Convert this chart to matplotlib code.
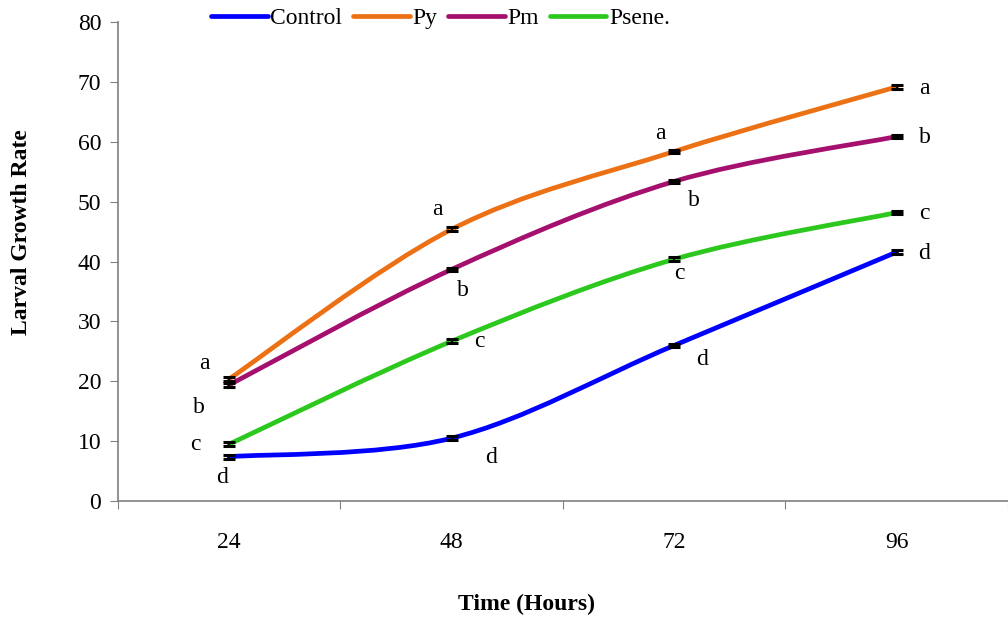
import matplotlib.pyplot as plt
import numpy as np
from matplotlib.path import Path
from matplotlib.patches import PathPatch

plt.rcParams['font.family'] = ['Liberation Serif', 'DejaVu Serif']

# данные
hours = ['24', '48', '72', '96']
control = [7.4, 10.5, 26.0, 41.6]
py = [20.4, 45.4, 58.4, 69.2]
pm = [19.4, 38.7, 53.4, 60.9]
psene = [9.5, 26.7, 40.4, 48.2]
err = [0.3, 0.3, 0.3, 0.3]

control_let = ['d', 'd', 'd', 'd']
py_let = ['a', 'a', 'a', 'a']
pm_let = ['b', 'b', 'b', 'b']
psene_let = ['c', 'c', 'c', 'c']

series = [
    ('Control', control, control_let, '#0000FF'),
    ('Py', py, py_let, '#EC7014'),
    ('Pm', pm, pm_let, '#A50F6E'),
    ('Psene.', psene, psene_let, '#2DC81E'),
]

# смещения букв (в пунктах) от точки
offsets = {
    'Control': [(-5, -15), (28, -14), (20, -10), (20, -1)],
    'Py': [(-18, 11), (-10, 14), (-10, 13), (20, -1)],
    'Pm': [(-22, -16), (8, -15), (14, -14), (20, -1)],
    'Psene.': [(-24, 0), (20, 0), (4, -10), (20, -1)],
}

FS = 17


def smooth_path(xs, ys):
    # сглаживание как в Excel (Безье по Катмулл-Рому)
    pts = np.column_stack([xs, ys]).astype(float)
    n = len(pts)
    verts = [pts[0]]
    codes = [Path.MOVETO]
    for i in range(n - 1):
        p0 = pts[i - 1] if i > 0 else pts[i]
        p1 = pts[i]
        p2 = pts[i + 1]
        p3 = pts[i + 2] if i + 2 < n else pts[i + 1]
        c1 = p1 + (p2 - p0) / 6.0
        c2 = p2 - (p3 - p1) / 6.0
        verts += [c1, c2, p2]
        codes += [Path.CURVE4] * 3
    return Path(verts, codes)


fig = plt.figure(figsize=(10.08, 6.17), dpi=100, facecolor='white')
ax = fig.add_axes([0.117, 0.188, 0.883, 0.776])

x = np.arange(1, len(hours) + 1)
handles = []
for name, vals, lets, col in series:
    patch = PathPatch(smooth_path(x, vals), facecolor='none', edgecolor=col,
                      lw=3.4, capstyle='round', zorder=3)
    ax.add_patch(patch)
    ax.errorbar(x, vals, yerr=err, fmt='none', ecolor='black', capsize=4.5,
                elinewidth=1.5, capthick=2.2, zorder=4)
    h, = ax.plot([], [], color=col, lw=3.4, solid_capstyle='round', label=name)
    handles.append(h)
    for xi, yi, lt, off in zip(x, vals, lets, offsets[name]):
        ax.annotate(lt, (xi, yi), xytext=off, textcoords='offset points',
                    ha='center', va='center', fontsize=FS)

ax.set_xlim(0.5, 4.5)
ax.set_ylim(0, 80)
ax.set_yticks(np.arange(0, 81, 10))
ax.set_xticks(np.arange(0.5, 4.6, 1))
ax.set_xticklabels([])
ax.set_xticks(x, minor=True)
ax.set_xticklabels(hours, minor=True)
ax.tick_params(axis='x', which='minor', length=0, pad=22, labelsize=FS)
ax.tick_params(axis='x', which='major', length=6, direction='out', color='#808080')
ax.tick_params(axis='y', length=6, direction='out', color='#808080', labelsize=FS, pad=6)

for s in ['top', 'right']:
    ax.spines[s].set_visible(False)
for s in ['left', 'bottom']:
    ax.spines[s].set_color('#808080')
    ax.spines[s].set_linewidth(1.2)

fig.text(526 / 1008, 1 - 604 / 617, 'Time (Hours)', ha='center', va='center',
         fontsize=FS, fontweight='bold')
fig.text(22 / 1008, 1 - 232 / 617, 'Larval Growth Rate', ha='center', va='center',
         rotation=90, fontsize=FS, fontweight='bold')

fig.legend(handles=handles, loc='center', bbox_to_anchor=(0.437, 0.970), ncol=4,
           frameon=False, fontsize=FS, handlelength=2.4, handletextpad=0.12,
           columnspacing=0.45, borderpad=0)

plt.savefig('out.png', dpi=100, facecolor='white')
